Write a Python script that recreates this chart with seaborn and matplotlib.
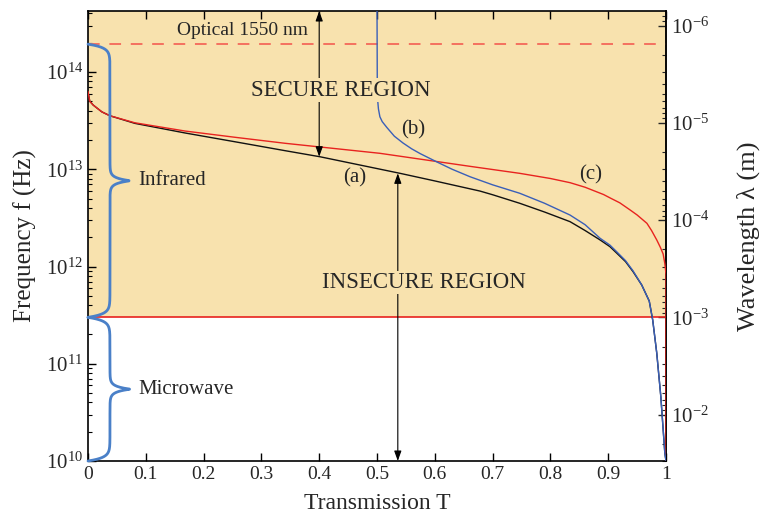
import numpy as np
import pandas as pd
import matplotlib.pyplot as plt
import seaborn as sns
from matplotlib.ticker import FixedLocator, LogLocator, NullFormatter

# curves: transmission T and log10 of frequency (Hz)
t_a = [0.0, 0.003, 0.009, 0.024, 0.038, 0.081, 0.168, 0.254, 0.341, 0.401, 0.540, 0.60,
       0.678, 0.70, 0.747, 0.79, 0.834, 0.86, 0.886, 0.903, 0.915, 0.93, 0.943, 0.958,
       0.971, 0.977, 0.984, 0.991, 0.998, 1.0]
logf_a = [13.80, 13.70, 13.66, 13.59, 13.55, 13.472, 13.373, 13.283, 13.191, 13.129, 12.958, 12.88,
          12.776, 12.738, 12.650, 12.56, 12.461, 12.37, 12.273, 12.204, 12.136, 12.05, 11.947, 11.81,
          11.645, 11.45, 11.11, 10.665, 10.08, 10.0]

t_b = [0.500, 0.5005, 0.501, 0.5025, 0.505, 0.509, 0.517, 0.530, 0.545, 0.560, 0.575, 0.603,
       0.630, 0.661, 0.700, 0.747, 0.790, 0.834, 0.860, 0.886, 0.903, 0.915, 0.930, 0.943, 0.958,
       0.971, 0.977, 0.984, 0.991, 0.998, 1.0]
logf_b = [14.70, 13.85, 13.72, 13.62, 13.54, 13.49, 13.43, 13.34, 13.27, 13.21, 13.16, 13.077,
          13.00, 12.923, 12.84, 12.753, 12.65, 12.529, 12.43, 12.29, 12.22, 12.15, 12.06, 11.955, 11.81,
          11.645, 11.45, 11.11, 10.665, 10.08, 10.0]

t_c = [0.0, 0.003, 0.009, 0.024, 0.038, 0.081, 0.168, 0.254, 0.341, 0.505, 0.661, 0.747,
       0.80, 0.834, 0.86, 0.892, 0.905, 0.920, 0.938, 0.950, 0.967, 0.975, 0.984, 0.990,
       0.995, 0.998, 1.0, 1.0]
logf_c = [13.80, 13.70, 13.66, 13.59, 13.55, 13.478, 13.393, 13.329, 13.267, 13.164, 13.030, 12.958,
          12.905, 12.862, 12.815, 12.740, 12.70, 12.655, 12.581, 12.53, 12.444, 12.37, 12.273, 12.20,
          12.13, 12.03, 11.92, 10.0]

# band limits (Hz)
f_optical = 1.934e14   # 1550 nm
f_ir_low = 3e11
f_min = 1e10
f_top = 4.24e14
c_light = 3e8

x_ticks = [0, 0.1, 0.2, 0.3, 0.4, 0.5, 0.6, 0.7, 0.8, 0.9, 1.0]
x_ticklabels = ['0', '0.1', '0.2', '0.3', '0.4', '0.5', '0.6', '0.7', '0.8', '0.9', '1']
wl_ticks = [1e-6, 1e-5, 1e-4, 1e-3, 1e-2]

shade = '#f8e2ae'
red = '#e8231f'
blue = '#3a5fb8'
brace_blue = '#4a80c8'

df = pd.concat([
    pd.DataFrame({'T': t_a, 'f': 10 ** np.array(logf_a), 'curve': 'a'}),
    pd.DataFrame({'T': t_c, 'f': 10 ** np.array(logf_c), 'curve': 'c'}),
    pd.DataFrame({'T': t_b, 'f': 10 ** np.array(logf_b), 'curve': 'b'}),
])

sns.set_theme(style='ticks')
plt.rcParams['font.family'] = ['Liberation Serif', 'DejaVu Serif']
plt.rcParams['mathtext.fontset'] = 'custom'
plt.rcParams['mathtext.rm'] = 'Liberation Serif'
plt.rcParams['mathtext.it'] = 'Liberation Serif:italic'
plt.rcParams['axes.unicode_minus'] = False
plt.rcParams['axes.linewidth'] = 1.2

fig, ax = plt.subplots(figsize=(7.63, 5.17), dpi=100)
fig.subplots_adjust(left=88 / 763, right=666 / 763, top=1 - 11 / 517, bottom=1 - 461 / 517)

ax.set_yscale('log')
ax.set_xlim(0, 1)
ax.set_ylim(f_min, f_top)

# secure/insecure background
ax.axhspan(f_ir_low, f_top, color=shade, lw=0, zorder=0)
ax.axhline(f_ir_low, color=red, lw=1.2, zorder=1)
ax.axhline(f_optical, color='#f4705f', lw=1.4, ls=(0, (6, 5)), zorder=1)

sns.lineplot(data=df, x='T', y='f', hue='curve', palette={'a': '#111111', 'c': red, 'b': blue},
             sort=False, estimator=None, legend=False, lw=1.0, ax=ax, zorder=3)


# curly braces for the bands
def brace(f_lo, f_hi, x_spine=0.038, x_tip=0.073, k_end=0.035, k_tip=0.028):
    u0, u1 = np.log10(f_lo), np.log10(f_hi)
    u = np.linspace(u0, u1, 800)
    um = (u0 + u1) / 2
    d_end = np.minimum(u - u0, u1 - u)
    x = x_spine * (1 - np.exp(-d_end / k_end)) + (x_tip - x_spine) * np.exp(-np.abs(u - um) / k_tip)
    return x, 10 ** u, 10 ** um


for lo, hi, name in [(f_ir_low, f_optical, 'Infrared'), (f_min, f_ir_low, 'Microwave')]:
    bx, by, fm = brace(lo, hi)
    ax.plot(bx, by, color=brace_blue, lw=2.0, zorder=5, clip_on=False)
    ax.text(0.087, fm, name, fontsize=15, va='center', ha='left', zorder=6)

# region arrows
arrow = dict(arrowstyle='<|-|>,head_length=0.5,head_width=0.18', color='black', lw=0.8,
             shrinkA=0, shrinkB=0)
ax.annotate('', xy=(0.40, f_top), xytext=(0.40, 10 ** 13.129), arrowprops=arrow, zorder=4)
ax.annotate('', xy=(0.536, 10 ** 12.958), xytext=(0.536, f_min), arrowprops=arrow, zorder=4)

ax.text(0.438, 10 ** 13.815, 'SECURE REGION', fontsize=16.5, ha='center', va='center', zorder=6,
        bbox=dict(facecolor=shade, edgecolor='none', pad=1))
ax.text(0.581, 10 ** 11.835, 'INSECURE REGION', fontsize=16.5, ha='center', va='center', zorder=6,
        bbox=dict(facecolor=shade, edgecolor='none', pad=1))
ax.text(0.268, 10 ** 14.43, 'Optical 1550 nm', fontsize=14, ha='center', va='center', zorder=6)
ax.text(0.462, 10 ** 12.91, '(a)', fontsize=15, ha='center', va='center', zorder=6)
ax.text(0.562, 10 ** 13.40, '(b)', fontsize=15, ha='center', va='center', zorder=6)
ax.text(0.870, 10 ** 12.94, '(c)', fontsize=15, ha='center', va='center', zorder=6)

ax.set_xticks(x_ticks)
ax.set_xticklabels(x_ticklabels)
ax.tick_params(which='both', direction='in', top=True, right=False, color='black')
ax.tick_params(axis='x', labelsize=14)
ax.tick_params(axis='y', labelsize=15)
ax.tick_params(which='major', length=6, width=1)
ax.tick_params(which='minor', length=3, width=0.8)
ax.tick_params(axis='x', which='minor', bottom=False, top=False)
ax.set_xlabel('Transmission T', fontsize=17, labelpad=7)
ax.set_ylabel('Frequency f (Hz)', fontsize=18, labelpad=6)


def to_wl(f):
    f = np.asarray(f, dtype=float)
    with np.errstate(divide='ignore'):
        return c_light / f


sec = ax.secondary_yaxis('right', functions=(to_wl, to_wl))
sec.yaxis.set_major_locator(FixedLocator(wl_ticks))
sec.yaxis.set_minor_locator(LogLocator(base=10, subs=np.arange(2, 10)))
sec.yaxis.set_minor_formatter(NullFormatter())
sec.tick_params(which='both', direction='in', labelsize=15)
sec.tick_params(which='major', length=6, width=1)
sec.tick_params(which='minor', length=3, width=0.8)
sec.set_ylabel('Wavelength λ (m)', fontsize=19, labelpad=20)

for s in ax.spines.values():
    s.set_color('black')

fig.savefig('out.png', dpi=100)
